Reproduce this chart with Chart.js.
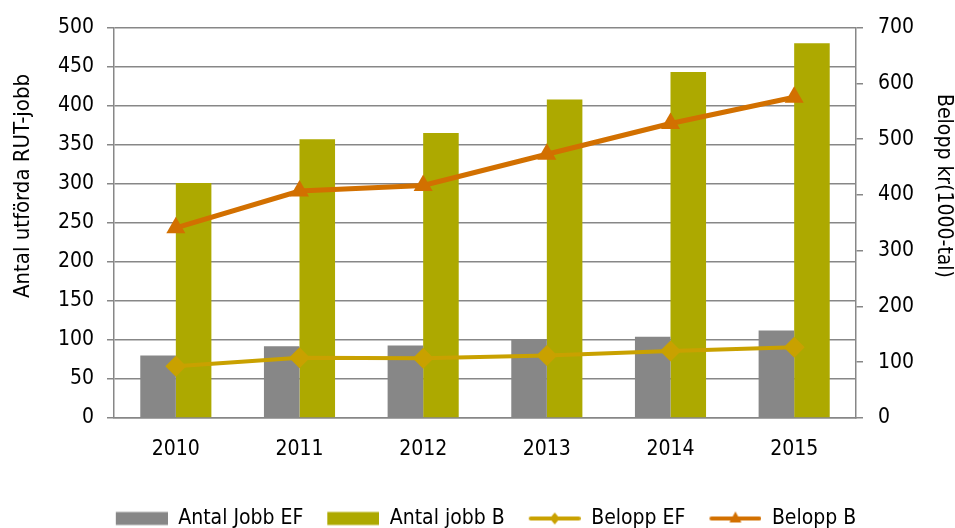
<!DOCTYPE html>
<html>
<head>
<meta charset="utf-8">
<script src="https://cdn.jsdelivr.net/npm/chart.js@4.4.0/dist/chart.umd.min.js"></script>
<style>
html, body { margin: 0; padding: 0; background: #fff; }
</style>
</head>
<body>
<canvas id="rutChart" width="955" height="528"></canvas>
<script>
const years = ['2010', '2011', '2012', '2013', '2014', '2015'];
const antalJobbEF = [80, 92, 93, 100, 104, 112];
const antalJobbB = [301, 357, 365, 408, 443, 480];
const beloppEF = [93, 108, 107, 112, 120, 127];
const beloppB = [341, 407, 417, 473, 528, 575];

const gray = '#878787';
const olive = '#ADA900';
const gold = '#C9A100';
const orange = '#D27000';
const font = "'DejaVu Sans Condensed', 'DejaVu Sans'";
const fs = 21;

// legend swatches: box for bars, line + marker for lines (transparent margin on the left)
function swatch(color, kind) {
    const c = document.createElement('canvas');
    c.width = 66; c.height = 18;
    const g = c.getContext('2d');
    g.fillStyle = color;
    g.strokeStyle = color;
    if (kind === 'box') {
        g.fillRect(14, 2.5, 52, 13);
    } else {
        g.lineWidth = 4;
        g.lineCap = 'round';
        g.beginPath(); g.moveTo(16, 9); g.lineTo(64, 9); g.stroke();
        g.beginPath();
        if (kind === 'diamond') {
            g.moveTo(40, 3); g.lineTo(45, 9); g.lineTo(40, 15); g.lineTo(35, 9);
        } else {
            g.moveTo(40, 2); g.lineTo(46, 13); g.lineTo(34, 13);
        }
        g.closePath(); g.fill();
    }
    return c;
}
const legendIcons = [swatch(gray, 'box'), swatch(olive, 'box'), swatch(gold, 'diamond'), swatch(orange, 'tri')];

// axis titles, placed like the original (centred a bit above the plot middle)
const axisTitles = {
    id: 'axisTitles',
    afterDraw(chart) {
        const c = chart.ctx;
        c.save();
        c.fillStyle = '#000';
        c.textAlign = 'center';
        c.textBaseline = 'middle';
        c.translate(23, 186); c.rotate(-Math.PI / 2);
        c.font = `22px ${font}`;
        c.fillText('Antal utförda RUT-jobb', 0, 0);
        c.restore();
        c.save();
        c.fillStyle = '#000';
        c.font = `${fs}px ${font}`;
        c.textAlign = 'center';
        c.textBaseline = 'middle';
        c.translate(943, 186); c.rotate(Math.PI / 2);
        c.fillText('Belopp kr(1000-tal)', 0, 0);
        c.restore();
    }
};

const ctx = document.getElementById('rutChart').getContext('2d');
new Chart(ctx, {
    type: 'bar',
    data: {
        labels: years,
        datasets: [
            { label: 'Antal Jobb EF', data: antalJobbEF, backgroundColor: gray, yAxisID: 'y', order: 2 },
            { label: 'Antal jobb B', data: antalJobbB, backgroundColor: olive, yAxisID: 'y', order: 2 },
            { type: 'line', label: 'Belopp EF', data: beloppEF, borderColor: gold, backgroundColor: gold,
              borderWidth: 4, pointStyle: 'rectRot', pointRadius: 10.5, pointBorderWidth: 0, yAxisID: 'y2', order: 1 },
            { type: 'line', label: 'Belopp B', data: beloppB, borderColor: orange, backgroundColor: orange,
              borderWidth: 5, pointStyle: 'triangle', pointRadius: 11, pointBorderWidth: 0, yAxisID: 'y2', order: 0 }
        ]
    },
    plugins: [axisTitles],
    options: {
        responsive: false,
        animation: false,
        datasets: { bar: { categoryPercentage: 0.575, barPercentage: 1.0 } },
        layout: { padding: { top: 20, right: 1, bottom: -11, left: 4 } },
        plugins: {
            tooltip: { enabled: false },
            legend: {
                position: 'bottom',
                labels: {
                    usePointStyle: true,
                    pointStyleWidth: 66,
                    boxHeight: 18,
                    padding: 10,
                    color: '#000',
                    font: { family: font, size: fs },
                    generateLabels: chart => chart.data.datasets.map((ds, i) => ({
                        text: ds.label, pointStyle: legendIcons[i], datasetIndex: i,
                        fillStyle: ds.backgroundColor, strokeStyle: ds.backgroundColor, lineWidth: 0, hidden: false
                    }))
                }
            }
        },
        scales: {
            x: {
                grid: { display: false },
                border: { color: gray, width: 1.5 },
                ticks: { color: '#000', font: { family: font, size: fs }, padding: 11, maxRotation: 0 },
                afterFit: s => { s.height = 80; }
            },
            y: {
                position: 'left',
                min: 0, max: 500,
                ticks: { stepSize: 50, color: '#000', font: { family: font, size: fs }, padding: 13 },
                grid: { color: gray, lineWidth: 1.5, tickLength: 7 },
                border: { color: gray, width: 1.5 },
                afterFit: s => { s.width = 110; }
            },
            y2: {
                position: 'right',
                min: 0, max: 700,
                ticks: { stepSize: 100, color: '#000', font: { family: font, size: fs }, padding: 15 },
                grid: { drawOnChartArea: false, color: gray, lineWidth: 1.5, tickLength: 7 },
                border: { color: gray, width: 1.5 },
                afterFit: s => { s.width = 98; }
            }
        }
    }
});
</script>
</body>
</html>
